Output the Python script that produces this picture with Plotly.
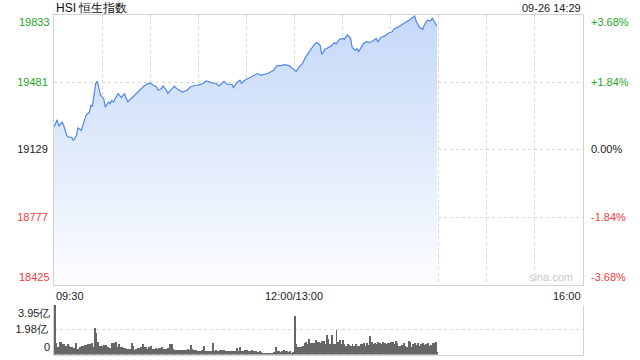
import plotly.graph_objects as go

# ---------------- data ----------------
TITLE = "HSI 恒生指数"
STAMP = "09-26 14:29"
PREV_CLOSE = 19129
Y_MIN, Y_MAX = 18425, 19833

times = ["09:30","09:32","09:33","09:35","09:36","09:38","09:39","09:41","09:42","09:44",
         "09:45","09:47","09:49","09:50","09:52","09:53","09:54","09:55","09:56","09:57",
         "09:58","09:59","10:00","10:01","10:02","10:04","10:05","10:06","10:07","10:10",
         "10:12","10:14","10:16","10:18","10:20","10:22","10:24","10:26","10:28","10:30",
         "10:32","10:34","10:35","10:37","10:38","10:40","10:41","10:43","10:45","10:47",
         "10:50","10:53","10:55","10:58","11:00","11:03","11:05","11:08","11:11","11:13",
         "11:16","11:18","11:21","11:22","11:24","11:26","11:27","11:29","11:31","11:34",
         "11:37","11:39","11:42","11:44","11:47","11:49","11:52","11:54","11:57","11:59",
         "13:01","13:03","13:05","13:07","13:09","13:11","13:13","13:14","13:16","13:17",
         "13:19","13:21","13:23","13:25","13:26","13:28","13:30","13:31","13:33","13:35",
         "13:36","13:38","13:39","13:40","13:41","13:43","13:45","13:47","13:49","13:51",
         "13:52","13:54","13:56","13:58","13:59","14:01","14:02","14:05","14:07","14:09",
         "14:11","14:13","14:15","14:16","14:18","14:20","14:21","14:23","14:25","14:26",
         "14:28","14:29"]
prices = [19246,19284,19250,19272,19255,19202,19193,19193,19176,19202,
          19243,19228,19281,19307,19324,19359,19355,19403,19473,19486,
          19447,19412,19403,19394,19350,19377,19368,19385,19377,19421,
          19400,19421,19377,19394,19412,19429,19447,19459,19470,19476,
          19464,19455,19438,19447,19460,19440,19421,19438,19459,19445,
          19429,19438,19455,19464,19465,19473,19486,19478,19473,19460,
          19485,19470,19468,19452,19477,19490,19473,19490,19499,19511,
          19525,19516,19525,19528,19542,19565,19568,19572,19565,19551,
          19535,19560,19578,19612,19638,19660,19682,19687,19673,19625,
          19651,19661,19670,19687,19680,19703,19708,19703,19726,19710,
          19661,19647,19655,19638,19655,19682,19691,19686,19696,19708,
          19691,19713,19720,19730,19738,19743,19756,19769,19778,19791,
          19801,19812,19825,19796,19766,19756,19778,19804,19800,19813,
          19787,19773]

# volume per minute, 亿 (09:30-11:59, then 13:00-14:29)
vol_morning = [3.95,0.93,0.60,0.99,1.00,0.88,0.88,0.75,0.88,0.70,
               0.61,0.61,0.53,0.93,0.48,0.48,0.67,0.75,0.75,0.80,
               0.80,0.83,0.88,0.93,0.67,2.10,1.74,1.01,0.75,0.75,
               0.75,0.80,0.80,0.67,0.56,0.53,0.93,0.93,1.01,0.61,
               0.83,0.61,0.61,0.53,0.53,0.48,0.48,0.48,0.93,0.69,
               0.43,0.48,0.56,0.56,0.61,0.83,0.61,0.61,0.48,0.61,
               0.69,0.48,0.48,0.53,0.48,0.53,0.53,0.61,0.48,0.48,
               0.48,0.53,0.85,0.85,0.48,0.43,0.40,0.43,0.43,0.43,
               0.43,0.43,0.40,0.48,0.40,0.78,0.48,0.40,0.40,0.35,
               0.35,0.35,0.40,0.69,0.35,0.35,0.29,0.35,0.35,0.93,
               0.35,0.43,0.35,0.43,0.40,0.40,0.40,0.35,0.35,0.29,
               0.35,0.29,0.35,0.35,0.56,0.35,0.67,0.29,0.35,0.40,
               0.40,0.29,0.35,0.40,0.29,0.29,0.35,0.21,0.29,0.21,
               0.19,0.19,0.19,0.19,0.19,0.19,0.19,0.21,0.67,0.35,
               0.35,0.21,0.35,0.40,0.29,0.29,0.21,0.29,0.13,0.21]
vol_afternoon = [3.07,0.83,0.67,0.67,0.61,0.75,0.93,1.01,0.83,1.28,
                 0.97,0.97,0.97,1.15,1.01,1.01,0.97,1.07,1.07,0.88,
                 1.55,1.23,0.88,1.55,0.88,0.88,1.95,1.01,1.20,0.83,
                 1.20,0.88,0.75,0.88,0.80,0.75,0.88,0.75,0.88,0.75,
                 0.75,0.88,0.88,0.97,0.75,0.97,0.80,1.47,1.01,0.88,
                 0.93,0.88,1.01,0.93,0.88,1.01,0.93,0.88,0.97,0.93,
                 1.01,1.01,0.88,1.09,0.93,0.75,0.75,0.80,0.93,0.75,
                 0.67,1.09,1.01,0.61,0.88,0.93,0.80,0.93,0.75,0.88,
                 0.93,0.80,0.88,0.97,0.75,0.80,0.93,0.93,1.01,0.25]

x_labels = ["09:30", "12:00/13:00", "16:00"]
x_grid_times = ["09:30","10:00","10:30","11:00","11:30","12:00",
                "13:30","14:00","14:30","15:00","15:30","16:00"]

# ---------------- helpers ----------------
def to_min(t):
    h, m = map(int, t.split(":"))
    v = h * 60 + m - (9 * 60 + 30)
    if h >= 13:
        v -= 60
    return v

mins = [to_min(t) for t in times]
volumes = vol_morning + vol_afternoon
vol_x = list(range(len(volumes)))
vmax = max(volumes)

GREEN = "#1ea51e"
RED = "#f03c3c"
BLACK = "#222222"
FONT = "Liberation Sans, Arial, sans-serif"

def col(v):
    return GREEN if v > PREV_CLOSE else (RED if v < PREV_CLOSE else BLACK)

step = (Y_MAX - PREV_CLOSE) / 2
levels = [Y_MIN, PREV_CLOSE - step, PREV_CLOSE, PREV_CLOSE + step, Y_MAX]
pct = [(v - PREV_CLOSE) / PREV_CLOSE * 100 for v in levels]
pct_txt = ["0.00%" if abs(p) < 1e-9 else f"{p:+.2f}%" for p in pct]

X_DOM = [54 / 640, 583 / 640]
MAIN_DOM = [1 - 284.5 / 360, 1 - 14.5 / 360]
VOL_DOM = [1 - 354.5 / 360, 1 - 304.5 / 360]
GRID = "#d6d6d6"
LINE = "#d4d4d4"

fig = go.Figure()

fig.add_trace(go.Scatter(
    x=mins, y=prices, mode="lines",
    line=dict(color="#4f86ec", width=1.2),
    fill="tozeroy",
    fillgradient=dict(type="vertical",
                      colorscale=[[0, "rgb(252,253,255)"], [1, "rgb(196,216,247)"]],
                      start=Y_MIN, stop=Y_MAX),
    xaxis="x", yaxis="y", hoverinfo="skip", showlegend=False))

fig.add_trace(go.Scatter(
    x=[mins[0]], y=[prices[0]], mode="markers", marker=dict(opacity=0),
    xaxis="x", yaxis="y2", hoverinfo="skip", showlegend=False))

fig.add_trace(go.Bar(
    x=vol_x, y=volumes, width=0.6, marker=dict(color="#666666", line=dict(width=0)),
    xaxis="x2", yaxis="y3", hoverinfo="skip", showlegend=False))

grid_x = [to_min(t) for t in x_grid_times]

fig.update_layout(
    width=640, height=360,
    margin=dict(l=0, r=0, t=0, b=0),
    paper_bgcolor="white", plot_bgcolor="white",
    font=dict(family=FONT, size=11, color=BLACK),
    bargap=0,
    xaxis=dict(domain=X_DOM, anchor="y", range=[0, 330], tickvals=grid_x,
               showticklabels=False, ticks="", showgrid=True, gridcolor=GRID,
               griddash="dot", gridwidth=1, showline=True, linecolor=LINE,
               linewidth=1, mirror=True, zeroline=False, fixedrange=True),
    yaxis=dict(domain=MAIN_DOM, anchor="x", range=[Y_MIN, Y_MAX],
               tickvals=levels[1:4],
               ticktext=[f'<span style="color:{col(v)}">{v:.0f}</span>' for v in levels[1:4]],
               ticks="", ticklabelstandoff=3, showgrid=True, gridcolor=GRID,
               griddash="dot", showline=True, linecolor=LINE, mirror=True,
               zeroline=False, fixedrange=True),
    yaxis2=dict(overlaying="y", side="right", anchor="x", range=[Y_MIN, Y_MAX],
                tickvals=levels[1:4],
                ticktext=[f'<span style="color:{col(v)}">{t}</span>'
                          for v, t in zip(levels[1:4], pct_txt[1:4])],
                ticks="", ticklabelstandoff=7, showgrid=False, zeroline=False,
                fixedrange=True),
    xaxis2=dict(domain=X_DOM, anchor="y3", range=[-0.5, 330], showticklabels=False,
                ticks="", showgrid=False, showline=True, linecolor=LINE,
                zeroline=False, fixedrange=True),
    yaxis3=dict(domain=VOL_DOM, anchor="x2", range=[0, vmax],
                tickvals=[vmax / 2, vmax], ticktext=[f"{vmax/2:.2f}亿", ""],
                ticks="", ticklabelstandoff=3, showgrid=True, gridcolor=GRID,
                griddash="dot", showline=True, linecolor=LINE, mirror=True,
                zeroline=False, fixedrange=True),
)

# previous-close reference line
fig.add_shape(type="line", xref="x", yref="y", x0=0, x1=330,
              y0=PREV_CLOSE, y1=PREV_CLOSE,
              line=dict(color="#aaaaaa", width=1, dash="3px,3px"), layer="below")

ann = []
# end labels of the price axes (kept inside the box like the original)
for v, t, ya in [(Y_MAX, f"{Y_MAX:.0f}", "top"), (Y_MIN, f"{Y_MIN:.0f}", "bottom")]:
    ann.append(dict(x=X_DOM[0], xref="paper", y=v, yref="y", text=t, showarrow=False,
                    xanchor="right", yanchor=ya, xshift=-2,
                    font=dict(color=col(v), size=11)))
for v, t, ya in [(Y_MAX, pct_txt[4], "top"), (Y_MIN, pct_txt[0], "bottom")]:
    ann.append(dict(x=X_DOM[1], xref="paper", y=v, yref="y", text=t, showarrow=False,
                    xanchor="left", yanchor=ya, xshift=6,
                    font=dict(color=col(v), size=11)))
# volume end labels
ann.append(dict(x=X_DOM[0], xref="paper", y=vmax, yref="y3", text=f"{vmax:.2f}亿",
                showarrow=False, xanchor="right", yanchor="top", xshift=-2))
ann.append(dict(x=X_DOM[0], xref="paper", y=0, yref="y3", text="0",
                showarrow=False, xanchor="right", yanchor="bottom", xshift=-2))
# time labels
ann.append(dict(x=0, xref="x", y=1 - 296 / 360, yref="paper", text=x_labels[0],
                showarrow=False, xanchor="left", yanchor="middle"))
ann.append(dict(x=to_min("12:00"), xref="x", y=1 - 296 / 360, yref="paper",
                text=x_labels[1], showarrow=False, xanchor="center", yanchor="middle"))
ann.append(dict(x=330, xref="x", y=1 - 296 / 360, yref="paper", text=x_labels[2],
                showarrow=False, xanchor="right", yanchor="middle"))
# title & timestamp
ann.append(dict(x=X_DOM[0], xref="paper", y=1 - 8 / 360, yref="paper", text=TITLE,
                showarrow=False, xanchor="left", yanchor="middle",
                font=dict(size=12, color="#111111")))
ann.append(dict(x=X_DOM[1], xref="paper", y=1 - 8 / 360, yref="paper", text=STAMP,
                showarrow=False, xanchor="right", yanchor="middle",
                font=dict(size=11, color="#222222")))
# watermark
ann.append(dict(x=X_DOM[1], xref="paper", y=Y_MIN, yref="y", text="sina.com",
                showarrow=False, xanchor="right", yanchor="bottom", xshift=-8,
                font=dict(size=11, color="#c8c8c8")))

fig.update_layout(annotations=ann)
fig.write_html("out.html")
